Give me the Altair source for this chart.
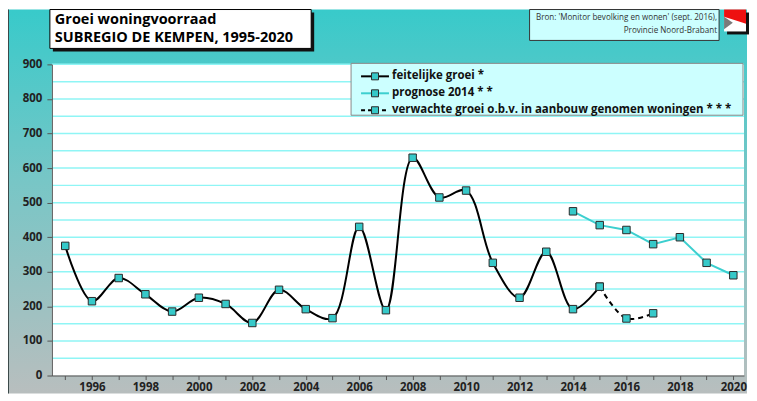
import altair as alt
import pandas as pd

# ---------------- data ----------------
years_actual = list(range(1995, 2016))
values_actual = [375, 215, 282, 235, 185, 225, 207, 152, 248, 192, 166,
                 430, 189, 630, 515, 535, 326, 225, 358, 192, 257]
years_prognose = list(range(2014, 2021))
values_prognose = [475, 435, 421, 380, 400, 326, 290]
years_expected = [2015, 2016, 2017]
values_expected = [257, 165, 180]

legend_labels = ["feitelijke groei  *", "prognose 2014  * *",
                 "verwachte groei o.b.v. in aanbouw genomen woningen  * * *"]
title_lines = ["Groei woningvoorraad", "SUBREGIO DE KEMPEN, 1995-2020"]
source_lines = ["Bron: 'Monitor bevolking en wonen' (sept. 2016),",
                "Provincie Noord-Brabant"]
y_tick_values = list(range(0, 901, 100))
grid_values = list(range(50, 901, 50))
x_tick_values = [1995 + 0.5 * i for i in range(51)]

# ---------------- styling ----------------
FONT = "Open Sans"
W, H = 694, 312
TEAL = "#36c9c9"
GRID = "#8ff5f5"

df_a = pd.DataFrame({"year": years_actual, "value": values_actual})
df_p = pd.DataFrame({"year": years_prognose, "value": values_prognose})
df_e = pd.DataFrame({"year": years_expected, "value": values_expected})
df_g = pd.DataFrame({"value": grid_values})
one = pd.DataFrame({"a": [0]})

xscale = alt.Scale(domain=[1994.5, 2020.4], nice=False, zero=False)
yscale = alt.Scale(domain=[0, 900], nice=False)

xaxis = alt.Axis(values=x_tick_values, format="d",
                 labelExpr="datum.value % 2 === 0 ? datum.label : ''",
                 title=None, grid=False, domainColor="#555", tickColor="#555",
                 tickSize=4, labelFont=FONT, labelFontWeight="bold",
                 labelFontSize=11.5, labelColor="#222", labelPadding=2,
                 labelOverlap=False, labelFlush=False, zindex=1)
yaxis = alt.Axis(values=y_tick_values, format="d", title=None, grid=False,
                 domainColor="#555", tickColor="#555", tickSize=5,
                 labelFont=FONT, labelFontWeight="bold", labelFontSize=11.5,
                 labelColor="#222", labelPadding=5, labelFlush=False,
                 labelOverlap=False, zindex=1)

gradient = alt.LinearGradient(
    gradient="linear",
    stops=[alt.GradientStop(color="#38caca", offset=0),
           alt.GradientStop(color="#78c6c6", offset=0.45),
           alt.GradientStop(color="#b8bebe", offset=1)],
    x1=0, x2=0, y1=0, y2=1)

bg = alt.Chart(one).mark_rect(fill=gradient).encode(
    x=alt.value(-44), x2=alt.value(W + 3), y=alt.value(-55), y2=alt.value(330))
left_border = alt.Chart(one).mark_rule(color="#3a4848", strokeWidth=1).encode(
    x=alt.value(-43.5), y=alt.value(-55), y2=alt.value(330))
plot_bg = alt.Chart(one).mark_rect(fill="white").encode(
    x=alt.value(0), x2=alt.value(W), y=alt.value(0), y2=alt.value(H))

grid = alt.Chart(df_g).mark_rule(color=GRID, strokeWidth=1.5).encode(
    y=alt.Y("value:Q", scale=yscale, axis=yaxis))

def series(df, color, interp, dash=None):
    kw = dict(color=color, strokeWidth=2, interpolate=interp)
    if dash:
        kw["strokeDash"] = dash
    line = alt.Chart(df).mark_line(**kw).encode(
        x=alt.X("year:Q", scale=xscale, axis=xaxis),
        y=alt.Y("value:Q", scale=yscale, axis=yaxis))
    pts = alt.Chart(df).mark_square(size=56, color=TEAL, stroke="#2a2a2a",
                                    strokeWidth=1, opacity=1).encode(
        x=alt.X("year:Q", scale=xscale, axis=xaxis),
        y=alt.Y("value:Q", scale=yscale, axis=yaxis))
    return line, pts

la, pa = series(df_a, "black", "catmull-rom")
lp, pp = series(df_p, "#3ccfcf", "linear")
le, pe = series(df_e, "black", "catmull-rom", dash=[5, 4])

# ---------------- title box ----------------
title_shadow = alt.Chart(one).mark_rect(fill="#111").encode(
    x=alt.value(1), x2=alt.value(263), y=alt.value(-52), y2=alt.value(-13))
title_box = alt.Chart(one).mark_rect(fill="white", stroke="black", strokeWidth=1).encode(
    x=alt.value(-2), x2=alt.value(260), y=alt.value(-55), y2=alt.value(-16))
t1 = alt.Chart(one).mark_text(align="left", baseline="middle", font=FONT,
                              fontSize=14.5, fontWeight="bold", color="black").encode(
    x=alt.value(3), y=alt.value(-44.5), text=alt.value(title_lines[0]))
t2 = alt.Chart(one).mark_text(align="left", baseline="middle", font=FONT,
                              fontSize=14.5, fontWeight="bold", color="black").encode(
    x=alt.value(3), y=alt.value(-26), text=alt.value(title_lines[1]))

# ---------------- source box ----------------
src_box = alt.Chart(one).mark_rect(fill="#ccffff", stroke="#333", strokeWidth=1).encode(
    x=alt.value(479), x2=alt.value(669), y=alt.value(-55), y2=alt.value(-24))
s1 = alt.Chart(one).mark_text(align="right", baseline="middle", font=FONT,
                              fontSize=8.1, color="#333").encode(
    x=alt.value(667), y=alt.value(-46), text=alt.value(source_lines[0]))
s2 = alt.Chart(one).mark_text(align="right", baseline="middle", font=FONT,
                              fontSize=8.1, color="#333").encode(
    x=alt.value(667), y=alt.value(-33.5), text=alt.value(source_lines[1]))

# ---------------- logo ----------------
SQ = "M-1,-1L1,-1L1,1L-1,1Z"
RED = "M-1,-1L1,-1L1,0.3L-0.2,-0.1L-1,-0.35Z"
GREY = "M-1,-0.35L-0.2,0.2L-1,0.8Z"
logo_shadow = alt.Chart(one).mark_point(shape=SQ, size=484, filled=True, color="#111",
                                        opacity=1, strokeWidth=0).encode(
    x=alt.value(688), y=alt.value(-41))
logo_white = alt.Chart(one).mark_point(shape=SQ, size=484, filled=True, color="white",
                                       opacity=1, strokeWidth=0).encode(
    x=alt.value(685), y=alt.value(-44))
logo_red = alt.Chart(one).mark_point(shape=RED, size=484, filled=True, color="#ee1111",
                                     opacity=1, strokeWidth=0).encode(
    x=alt.value(685), y=alt.value(-44))
logo_grey = alt.Chart(one).mark_point(shape=GREY, size=484, filled=True, color="#7a7a7a",
                                      opacity=1, strokeWidth=0).encode(
    x=alt.value(685), y=alt.value(-44))

# ---------------- legend ----------------
leg_box = alt.Chart(one).mark_rect(fill="#ccffff", stroke="#888", strokeWidth=1).encode(
    x=alt.value(300), x2=alt.value(693), y=alt.value(-1), y2=alt.value(51))
leg_layers = []
leg_rows = [12, 29, 46]
leg_colors = ["black", "#3ccfcf", "black"]
for i, lab in enumerate(legend_labels):
    rk = dict(color=leg_colors[i], strokeWidth=2)
    if i == 2:
        rk["strokeDash"] = [4, 3]
    leg_layers.append(alt.Chart(one).mark_rule(**rk).encode(
        x=alt.value(310), x2=alt.value(338), y=alt.value(leg_rows[i])))
    leg_layers.append(alt.Chart(one).mark_square(size=49, color=TEAL, stroke="#2a2a2a",
                                                 strokeWidth=1, opacity=1).encode(
        x=alt.value(324), y=alt.value(leg_rows[i])))
    leg_layers.append(alt.Chart(one).mark_text(align="left", baseline="middle", font=FONT,
                                               fontSize=11.5, fontWeight="bold",
                                               color="#111").encode(
        x=alt.value(341), y=alt.value(leg_rows[i]), text=alt.value(lab)))

chart = alt.layer(
    bg, left_border, plot_bg, grid,
    la, lp, le, pa, pp, pe,
    title_shadow, title_box, t1, t2,
    src_box, s1, s2,
    logo_shadow, logo_white, logo_red, logo_grey,
    leg_box, *leg_layers
).properties(width=W, height=H).configure(padding=0).configure_view(stroke=None)

chart.save("out.html", embed_options={"renderer": "svg", "actions": False})
